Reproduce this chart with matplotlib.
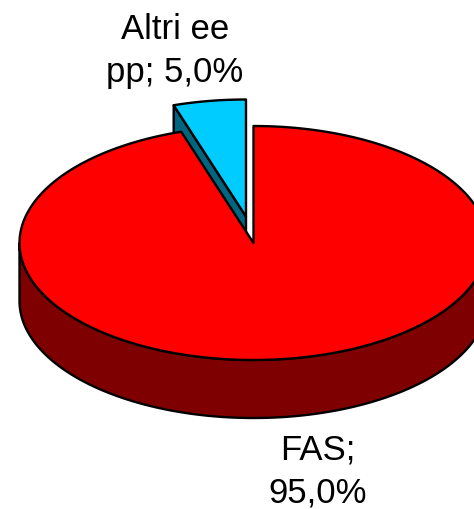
import numpy as np
import matplotlib
matplotlib.use("Agg")
import matplotlib.pyplot as plt
from matplotlib.patches import Polygon

# chart data
categories = ["FAS", "Altri ee pp"]
shares = [95.0, 5.0]
labels = ["FAS;\n95,0%", "Altri ee\npp; 5,0%"]

plt.rcParams['font.family'] = ['Liberation Sans', 'DejaVu Sans']

# pie geometry in pixels
cx, cy = 253.5, 243
rx, ry = 234, 117
depth = 58
edge_lw = 1.7

fig = plt.figure(figsize=(4.74, 5.09), dpi=100)
ax = fig.add_axes([0, 0, 1, 1])
ax.set_xlim(0, 474)
ax.set_ylim(509, 0)
ax.axis('off')


# points on the pie rim, angle in degrees clockwise from 12 o'clock
def rim(t1, t2, dx=0, dy=0):
    t = np.radians(np.linspace(t1, t2, 300))
    return np.column_stack((cx + dx + rx * np.sin(t), cy + dy - ry * np.cos(t)))


def poly(points, color, z):
    ax.add_patch(Polygon(points, closed=True, facecolor=color, edgecolor='black',
                         linewidth=edge_lw, joinstyle='round', zorder=z))


# slice angles come from the shares
red_end = 360 * shares[0] / sum(shares)

# exploded small slice goes behind the big one
off_x, off_y = -7.5, -26.5
corner = rim(red_end, red_end, off_x, off_y)[0]
tip = np.array([cx + off_x, cy + off_y])
poly([tip, corner, corner + [0, depth], tip + [0, depth]], '#006680', 1)
poly(np.vstack(([tip], rim(red_end, 360, off_x, off_y))), '#00CCFF', 2)

# big slice: front wall first, then the top
front = rim(90, 270)
poly(np.vstack((front, (front + [0, depth])[::-1])), '#7F0000', 3)
poly(np.vstack(([[cx, cy]], rim(0, red_end))), '#FF0000', 4)

# bottom label sits tight against the lower edge
ax.text(318, 471.5, labels[0], ha='center', va='center', fontsize=25,
        linespacing=1.38, color='black', zorder=5)
ax.text(175, 51, labels[1], ha='center', va='center', fontsize=25,
        linespacing=1.38, color='black', zorder=5)

fig.savefig('out.png', dpi=100)
